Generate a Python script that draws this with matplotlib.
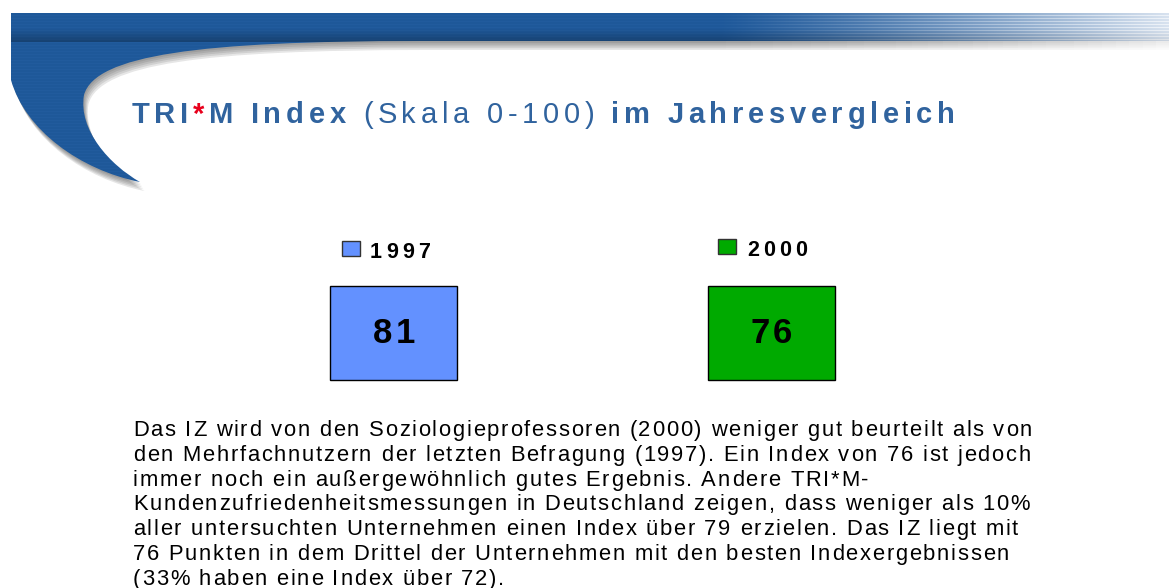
import numpy as np
import matplotlib
matplotlib.use('Agg')
import matplotlib.pyplot as plt
from matplotlib.path import Path
from matplotlib.patches import PathPatch, Rectangle
from matplotlib.transforms import Affine2D
from matplotlib.font_manager import FontProperties, findfont
from matplotlib.ft2font import FT2Font, LoadFlags

W, H = 1169, 588
DPI = 100
FAMILY = 'Liberation Sans'

# title pieces: (text, bold?, colour)
title_parts = [
    ('TRI', True, '#30639e'),
    ('*', True, '#e8001c'),
    ('M Index ', True, '#30639e'),
    ('(Skala 0-100) ', False, '#30639e'),
    ('im Jahresvergleich', True, '#30639e'),
]

years = ['1997', '2000']
index_values = [81, 76]
box_colors = ['#6391ff', '#00aa00']

body_lines = [
    'Das IZ wird von den Soziologieprofessoren (2000) weniger gut beurteilt als von',
    'den Mehrfachnutzern der letzten Befragung (1997). Ein Index von 76 ist jedoch',
    'immer noch ein außergewöhnlich gutes Ergebnis. Andere TRI*M-',
    'Kundenzufriedenheitsmessungen in Deutschland zeigen, dass weniger als 10%',
    'aller untersuchten Unternehmen einen Index über 79 erzielen. Das IZ liegt mit',
    '76 Punkten in dem Drittel der Unternehmen mit den besten Indexergebnissen',
    '(33% haben eine Index über 72).',
]


def font_prop(size, bold):
    return FontProperties(family=FAMILY, weight='bold' if bold else 'normal', size=size)


def advances(s, prop):
    font = FT2Font(findfont(prop))
    font.set_size(prop.get_size_in_points(), DPI)
    out = []
    for c in s:
        g = font.load_char(ord(c), flags=LoadFlags.NO_HINTING)
        out.append(g.linearHoriAdvance / 65536)
    return out


def tracked(ax, x, y, s, prop, color='black', track=0.0, ha='left'):
    adv = advances(s, prop)
    total = sum(adv) + track * (len(s) - 1)
    if ha == 'center':
        x -= total / 2
    for c, a in zip(s, adv):
        if c != ' ':
            ax.text(x, y, c, fontproperties=prop, color=color, va='baseline', ha='left')
        x += a + track
    return x


fig = plt.figure(figsize=(W / DPI, H / DPI), dpi=DPI)
ax = fig.add_axes([0, 0, 1, 1])
ax.set_xlim(0, W)
ax.set_ylim(H, 0)
ax.axis('off')

# header swoosh
verts = [(11, 13), (W, 13), (W, 41), (420, 41),
         (200, 41), (95, 55), (84, 95),
         (78, 130), (110, 165), (140, 182),
         (80, 170), (25, 130), (11, 80),
         (11, 13)]
codes = [Path.MOVETO, Path.LINETO, Path.LINETO, Path.LINETO,
         Path.CURVE4, Path.CURVE4, Path.CURVE4,
         Path.CURVE4, Path.CURVE4, Path.CURVE4,
         Path.CURVE4, Path.CURVE4, Path.CURVE4,
         Path.CLOSEPOLY]
swoosh = Path(verts, codes)

xs = np.arange(W) + 0.5
ys = np.arange(200) + 0.5
f = np.clip((xs - 720) / 450, 0, 1) ** 1.2
dark = np.array([0.12, 0.35, 0.61])
light = np.array([0.86, 0.90, 0.95])
rgb = dark[None, None, :] * (1 - f[None, :, None]) + light[None, None, :] * f[None, :, None]
rgb = np.repeat(rgb, len(ys), axis=0)
rows = np.arange(len(ys))
stripe = (rows % 3 == 0)[:, None, None]
rgb = np.where(stripe, rgb + (1 - rgb) * (0.55 * f[None, :, None] + 0.015), rgb * 0.99)
shade = np.clip((ys - 28) / 13, 0, 1)[:, None, None] * (ys < 42)[:, None, None]
rgb = rgb * (1 - 0.25 * shade * (1 - 0.7 * f[None, :, None]))
img = np.dstack([np.clip(rgb, 0, 1), np.ones((len(ys), W))])

# soft shadow under the swoosh
sh = np.zeros((len(ys), W, 4))
sh[..., :3] = 0.25
sh[..., 3] = 0.13 * (1 - 0.85 * f)[None, :]
for d in range(1, 6):
    p = PathPatch(swoosh.transformed(Affine2D().translate(d * 0.9, d * 1.8)),
                  transform=ax.transData, facecolor='none', edgecolor='none')
    ax.add_patch(p)
    im = ax.imshow(sh, extent=[0, W, 200, 0], origin='upper', interpolation='bilinear',
                   aspect='auto', zorder=1)
    im.set_clip_path(p)

clip = PathPatch(swoosh, transform=ax.transData, facecolor='none', edgecolor='none')
ax.add_patch(clip)
im = ax.imshow(img, extent=[0, W, 200, 0], origin='upper', interpolation='bilinear',
               aspect='auto', zorder=2)
im.set_clip_path(clip)
ax.set_xlim(0, W)
ax.set_ylim(H, 0)

# title, letter-spaced to span 132..955
title_props = [font_prop(21, b) for _, b, _ in title_parts]
title_str = ''.join(t for t, _, _ in title_parts)
natural = sum(sum(advances(t, p)) for (t, _, _), p in zip(title_parts, title_props))
title_track = (955 - 132 - natural) / (len(title_str) - 1)
x = 132
for (t, _, col), p in zip(title_parts, title_props):
    x = tracked(ax, x, 123, t, p, color=col, track=title_track)

# index boxes
box_left = [330, 708]
box_top, box_w, box_h = 286, 127, 94
leg_left = [342, 718]
leg_top = [241, 239]
lab_x = [370, 747]
lab_y = [258, 255.5]
for i, (yr, val, col) in enumerate(zip(years, index_values, box_colors)):
    ax.add_patch(Rectangle((box_left[i], box_top), box_w, box_h, facecolor=col,
                           edgecolor='black', linewidth=1, zorder=3))
    tracked(ax, box_left[i] + box_w / 2, 343, str(val), font_prop(25, True),
            track=3.5, ha='center')
    ax.add_patch(Rectangle((leg_left[i], leg_top[i]), 18, 15, facecolor=col,
                           edgecolor='#333333', linewidth=1, zorder=3))
    tracked(ax, lab_x[i], lab_y[i], yr, font_prop(15.5, True), track=4)

# body text
body_prop = font_prop(15.8, False)
first = body_lines[0]
body_track = (1032 - 133 - sum(advances(first, body_prop))) / (len(first) - 1)
for k, line in enumerate(body_lines):
    tracked(ax, 133, 436 + 24.8 * k, line, body_prop, color='black', track=body_track)

fig.savefig('out.png', dpi=DPI)
